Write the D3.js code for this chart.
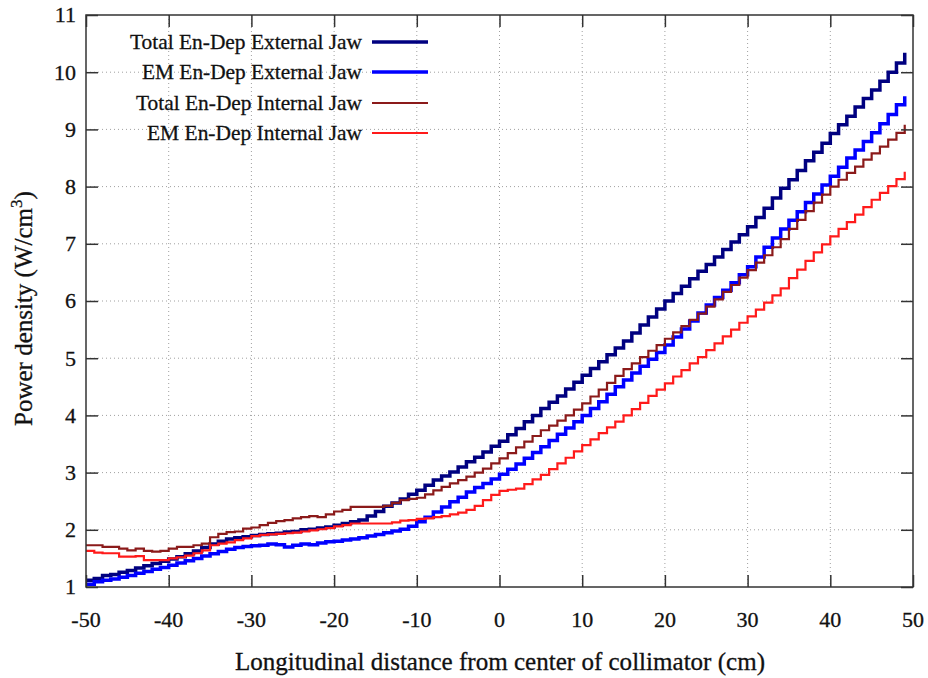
<!DOCTYPE html>
<html><head><meta charset="utf-8">
<script src="https://cdn.jsdelivr.net/npm/d3@7"></script>
<style>body{margin:0;background:#fff}svg{display:block}</style>
</head><body><svg id="c" width="928" height="678"></svg>
<script>
const xStart = -50;
const totalExt = [1.12,1.15,1.20,1.22,1.26,1.29,1.33,1.37,1.41,1.45,1.49,1.53,1.58,1.63,1.69,1.75,1.80,1.84,1.86,1.88,1.90,1.92,1.93,1.94,1.96,1.97,2.00,2.01,2.03,2.05,2.08,2.11,2.14,2.17,2.24,2.32,2.41,2.47,2.54,2.62,2.69,2.78,2.87,2.94,3.01,3.10,3.19,3.27,3.36,3.46,3.55,3.66,3.77,3.89,4.00,4.12,4.23,4.34,4.46,4.58,4.70,4.82,4.94,5.06,5.18,5.30,5.44,5.58,5.72,5.86,6.00,6.13,6.26,6.39,6.52,6.64,6.77,6.90,7.03,7.16,7.30,7.46,7.62,7.80,7.97,8.12,8.28,8.45,8.60,8.76,8.93,9.08,9.23,9.39,9.54,9.69,9.84,10.00,10.16,10.34];
const emExt = [1.05,1.09,1.12,1.14,1.17,1.20,1.24,1.27,1.31,1.34,1.38,1.42,1.46,1.50,1.54,1.58,1.62,1.66,1.69,1.71,1.72,1.73,1.75,1.74,1.70,1.73,1.75,1.74,1.77,1.79,1.80,1.82,1.84,1.86,1.89,1.92,1.95,1.98,2.01,2.06,2.14,2.22,2.31,2.40,2.49,2.57,2.66,2.74,2.81,2.89,2.97,3.06,3.15,3.25,3.35,3.45,3.56,3.67,3.78,3.89,4.00,4.12,4.24,4.37,4.50,4.62,4.74,4.86,4.98,5.10,5.23,5.37,5.51,5.65,5.79,5.93,6.06,6.19,6.32,6.46,6.60,6.77,6.94,7.10,7.26,7.41,7.56,7.72,7.87,8.03,8.18,8.34,8.50,8.64,8.79,8.94,9.10,9.26,9.43,9.58];
const totalInt = [1.73,1.73,1.70,1.70,1.67,1.64,1.67,1.63,1.62,1.63,1.67,1.70,1.70,1.73,1.76,1.87,1.93,1.96,1.97,2.02,2.04,2.08,2.12,2.15,2.17,2.20,2.22,2.24,2.22,2.27,2.32,2.35,2.40,2.40,2.40,2.40,2.42,2.47,2.52,2.54,2.56,2.62,2.69,2.75,2.81,2.87,2.93,3.00,3.07,3.16,3.25,3.34,3.44,3.54,3.64,3.74,3.82,3.91,4.00,4.10,4.21,4.33,4.45,4.57,4.69,4.81,4.91,5.02,5.13,5.23,5.34,5.45,5.56,5.67,5.78,5.90,6.03,6.16,6.28,6.41,6.54,6.67,6.80,6.94,7.08,7.26,7.42,7.57,7.72,7.86,8.00,8.12,8.24,8.35,8.47,8.58,8.70,8.82,8.94,9.08];
const emInt = [1.63,1.60,1.59,1.59,1.53,1.53,1.54,1.47,1.47,1.47,1.50,1.52,1.55,1.59,1.64,1.73,1.76,1.78,1.82,1.85,1.89,1.91,1.92,1.93,1.94,1.95,1.97,1.99,2.01,2.03,2.06,2.08,2.11,2.11,2.11,2.11,2.11,2.13,2.16,2.17,2.19,2.20,2.22,2.24,2.27,2.30,2.35,2.42,2.52,2.61,2.68,2.70,2.72,2.80,2.88,2.96,3.06,3.16,3.26,3.37,3.48,3.58,3.69,3.79,3.89,4.00,4.11,4.22,4.34,4.45,4.56,4.68,4.79,4.91,5.02,5.14,5.26,5.38,5.50,5.62,5.73,5.85,5.97,6.10,6.22,6.40,6.55,6.70,6.85,6.99,7.13,7.26,7.38,7.51,7.64,7.77,7.89,8.01,8.13,8.26];
const seriesNames = ["Total En-Dep External Jaw","EM En-Dep External Jaw","Total En-Dep Internal Jaw","EM En-Dep Internal Jaw"];
const seriesColors = ["#000080","#0000ff","#8b1a1a","#ff1a1a"];
const seriesWidths = [3.5,3.5,2.2,2.2];
const legendWidths = [232,220,226,215];
const xTicks = [-50,-40,-30,-20,-10,0,10,20,30,40,50];
const yTicks = [1,2,3,4,5,6,7,8,9,10,11];

const FONT = "Liberation Serif, Times New Roman, serif";
const svg = d3.select("#c");
const L=86,R=913,T=15,B=587;
const x = d3.scaleLinear().domain([-50,50]).range([L,R]);
const y = d3.scaleLinear().domain([1,11]).range([B,T]);

function txt(sel,size){
  return sel.style("font-family",FONT).style("font-size",size+"px").attr("fill","#111")
    .attr("stroke","#111").attr("stroke-width",0.3);
}

// grid
const g = svg.append("g");
g.selectAll(".gx").data(xTicks.slice(1,-1)).enter().append("line")
 .attr("x1",d=>x(d)).attr("x2",d=>x(d)).attr("y1",T).attr("y2",B)
 .attr("stroke","#a0a0a0").attr("stroke-width",1).attr("stroke-dasharray","1,3");
g.selectAll(".gy").data(yTicks.slice(1,-1)).enter().append("line")
 .attr("y1",d=>y(d)).attr("y2",d=>y(d)).attr("x1",L).attr("x2",R)
 .attr("stroke","#a0a0a0").attr("stroke-width",1).attr("stroke-dasharray","1,3");

// series
const all = [totalExt, emExt, totalInt, emInt];
const line = d3.line().x(d=>x(d[0])).y(d=>y(d[1])).curve(d3.curveStepAfter);
all.forEach((vals,i)=>{
  const pts = vals.map((v,j)=>[xStart+j,v]);
  svg.append("path").attr("d",line(pts)).attr("fill","none")
   .attr("stroke",seriesColors[i]).attr("stroke-width",seriesWidths[i]);
});

// axes (ticks inward, mirrored)
function style(sel){sel.select(".domain").remove();sel.selectAll("line").attr("stroke","#333").attr("stroke-width",1.5);sel.selectAll("text").remove();}
svg.append("g").attr("transform",`translate(0,${B})`).call(d3.axisBottom(x).tickValues(xTicks).tickSize(-12)).call(style);
svg.append("g").attr("transform",`translate(0,${T})`).call(d3.axisTop(x).tickValues(xTicks).tickSize(-12)).call(style);
svg.append("g").attr("transform",`translate(${L},0)`).call(d3.axisLeft(y).tickValues(yTicks).tickSize(-12)).call(style);
svg.append("g").attr("transform",`translate(${R},0)`).call(d3.axisRight(y).tickValues(yTicks).tickSize(-12)).call(style);
svg.append("rect").attr("x",L).attr("y",T).attr("width",R-L).attr("height",B-T)
 .attr("fill","none").attr("stroke","#333").attr("stroke-width",1.5);

// tick labels
svg.selectAll(".xl").data(xTicks).enter().append("text")
 .attr("x",d=>x(d)).attr("y",627).attr("text-anchor","middle").call(txt,22)
 .text(d=>String(d));
svg.selectAll(".yl").data(yTicks).enter().append("text")
 .attr("x",76).attr("y",d=>y(d)).attr("dy","0.34em").attr("text-anchor","end").call(txt,22)
 .text(d=>String(d));

// legend
const legY = [42,72,103,133];
seriesNames.forEach((n,i)=>{
  svg.append("text").attr("x",362-legendWidths[i]).attr("y",legY[i]).attr("dy","0.34em")
   .attr("textLength",legendWidths[i]).attr("lengthAdjust","spacingAndGlyphs")
   .call(txt,22).text(n);
  svg.append("line").attr("x1",372).attr("x2",428).attr("y1",legY[i]).attr("y2",legY[i])
   .attr("stroke",seriesColors[i]).attr("stroke-width",seriesWidths[i]);
});

// axis titles
svg.append("text").attr("x",235).attr("y",670).attr("textLength",530).attr("lengthAdjust","spacingAndGlyphs")
 .call(txt,25).text("Longitudinal distance from center of collimator (cm)");
const yt = svg.append("text").attr("transform","translate(32,426) rotate(-90)").call(txt,25);
yt.append("tspan").text("Power density (W/cm");
yt.append("tspan").attr("dy","-10").style("font-size","17px").text("3");
yt.append("tspan").attr("dy","10").text(")");
</script></body></html>
